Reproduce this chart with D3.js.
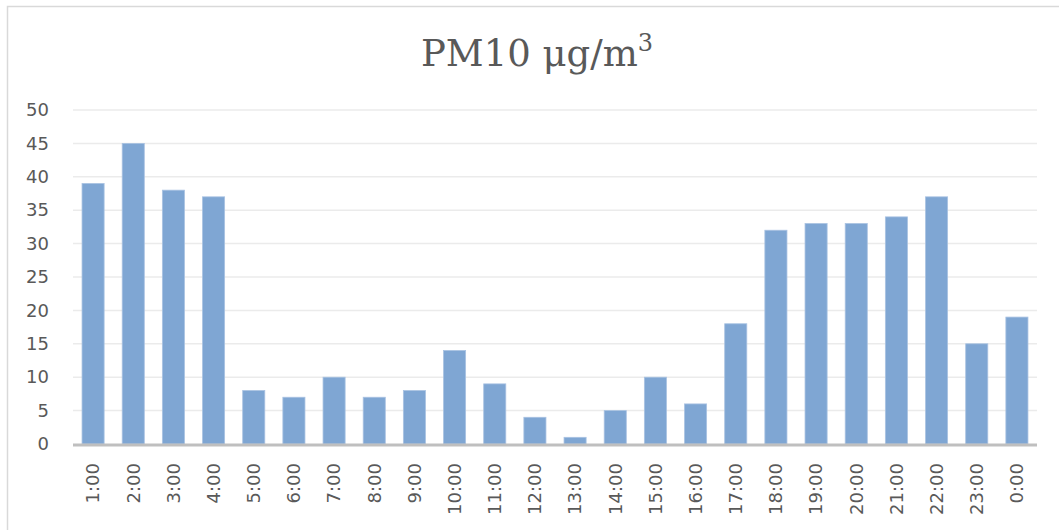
<!DOCTYPE html>
<html>
<head>
<meta charset="utf-8">
<script src="https://cdn.jsdelivr.net/npm/d3@7"></script>
<style>
  body { margin: 0; background: #fff; }
  svg text { fill: #595959; }
</style>
</head>
<body>
<div id="chart"></div>
<script>
// hourly PM10 readings
var hours = ["1:00","2:00","3:00","4:00","5:00","6:00","7:00","8:00","9:00","10:00","11:00","12:00",
             "13:00","14:00","15:00","16:00","17:00","18:00","19:00","20:00","21:00","22:00","23:00","0:00"];
var pm10 = [39, 45, 38, 37, 8, 7, 10, 7, 8, 14, 9, 4, 1, 5, 10, 6, 18, 32, 33, 33, 34, 37, 15, 19];
var yTicks = [0, 5, 10, 15, 20, 25, 30, 35, 40, 45, 50];

var W = 1059, H = 530;
var plotLeft = 73, plotRight = 1037, plotTop = 110, plotBottom = 444;
var labelFont = "'DejaVu Sans', Verdana, sans-serif";

var svg = d3.select("#chart").append("svg")
    .attr("width", W)
    .attr("height", H);

// chart frame
svg.append("rect")
    .attr("x", 7.5).attr("y", 6.5)
    .attr("width", 1060).attr("height", 530)
    .attr("fill", "none")
    .attr("stroke", "#d9d9d9")
    .attr("stroke-width", 1.5);

var x = d3.scaleBand()
    .domain(hours)
    .range([plotLeft, plotRight])
    .paddingInner(0.45)
    .paddingOuter(0.225);

var y = d3.scaleLinear()
    .domain([0, 50])
    .range([plotBottom, plotTop]);

// gridlines
svg.append("g").selectAll("line")
    .data(yTicks.filter(function(d) { return d > 0; }))
    .enter().append("line")
    .attr("x1", plotLeft).attr("x2", plotRight)
    .attr("y1", function(d) { return y(d); })
    .attr("y2", function(d) { return y(d); })
    .attr("stroke", "#ebebeb")
    .attr("stroke-width", 1.5);

// y labels
var yAxis = svg.append("g")
    .attr("transform", "translate(" + (plotLeft - 24) + ",0)")
    .call(d3.axisLeft(y).tickValues(yTicks).tickSize(0).tickPadding(0));
yAxis.select(".domain").remove();
yAxis.selectAll("text")
    .attr("fill", "#595959")
    .style("font-family", labelFont)
    .style("font-size", "18px");

// bars
svg.append("g").selectAll("rect")
    .data(pm10)
    .enter().append("rect")
    .attr("x", function(d, i) { return x(hours[i]); })
    .attr("y", function(d) { return y(d); })
    .attr("width", x.bandwidth())
    .attr("height", function(d) { return y(0) - y(d); })
    .attr("fill", "#7fa6d3")
    .attr("stroke", "#a9c2e2")
    .attr("stroke-width", 0.8);

// baseline
svg.append("line")
    .attr("x1", plotLeft).attr("x2", plotRight)
    .attr("y1", plotBottom + 1).attr("y2", plotBottom + 1)
    .attr("stroke", "#bfbfbf")
    .attr("stroke-width", 3);

// x labels, rotated
var xAxis = svg.append("g")
    .attr("transform", "translate(0," + plotBottom + ")")
    .call(d3.axisBottom(x).tickSize(0).tickPadding(0));
xAxis.select(".domain").remove();
xAxis.selectAll("text")
    .attr("fill", "#595959")
    .style("font-family", labelFont)
    .style("font-size", "18px")
    .attr("transform", "rotate(-90)")
    .attr("x", -19)
    .attr("y", 0)
    .attr("dy", "0.35em")
    .style("text-anchor", "end");

// title
svg.append("text")
    .attr("x", 537)
    .attr("y", 66)
    .attr("text-anchor", "middle")
    .style("font-family", "'DejaVu Serif', 'Liberation Serif', serif")
    .style("font-size", "37px")
    .html('PM10 μg/m<tspan dy="-15" font-size="24px">3</tspan>');
</script>
</body>
</html>
